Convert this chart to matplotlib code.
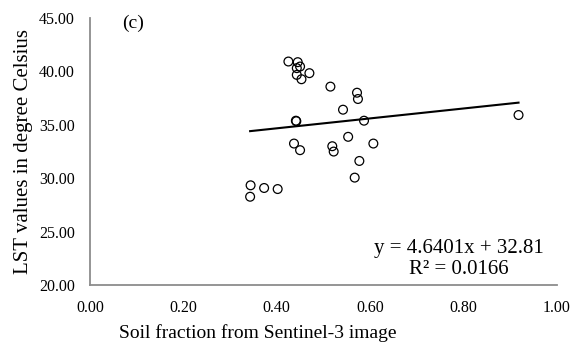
import numpy as np
import matplotlib.pyplot as plt

plt.rcParams['font.family'] = ['Liberation Serif', 'DejaVu Serif']

# Soil fraction (x) and LST in degree Celsius (y)
soil = [0.425, 0.445, 0.450, 0.443, 0.470, 0.443, 0.453, 0.515, 0.572, 0.574,
        0.542, 0.441, 0.442, 0.587, 0.918, 0.553, 0.437, 0.450, 0.519, 0.522,
        0.607, 0.577, 0.567, 0.344, 0.343, 0.373, 0.402]
lst = [40.92, 40.86, 40.45, 40.30, 39.83, 39.67, 39.26, 38.57, 38.00, 37.41,
       36.41, 35.38, 35.33, 35.38, 35.91, 33.87, 33.24, 32.62, 32.99, 32.49,
       33.24, 31.61, 30.05, 29.33, 28.26, 29.08, 28.98]

slope = 4.6401
intercept = 32.81
r2 = 0.0166

fig = plt.figure(figsize=(5.77, 3.45), dpi=100)
ax = fig.add_axes([0.156, 0.174, 0.809, 0.774])

ax.scatter(soil, lst, s=40, facecolors='none', edgecolors='black', linewidths=0.9, zorder=3)

# linear trend line over the data range
xs = np.array([min(soil), max(soil)])
ax.plot(xs, slope * xs + intercept, color='black', linewidth=1.5, zorder=2)

ax.set_xlim(0, 1)
ax.set_ylim(20, 45)
ax.set_xticks(np.arange(0, 1.01, 0.2))
ax.set_yticks(np.arange(20, 45.1, 5))
ax.set_xticklabels([f'{v:.2f}' for v in np.arange(0, 1.01, 0.2)])
ax.set_yticklabels([f'{v:.2f}' for v in np.arange(20, 45.1, 5)])
ax.tick_params(length=0, labelsize=11.5, pad=11)

for side in ['top', 'right']:
    ax.spines[side].set_visible(False)
for side in ['left', 'bottom']:
    ax.spines[side].set_color('#8c8c8c')
    ax.spines[side].set_linewidth(1.3)

# x label sits left of the axis centre in the original
fig.text(0.447, 0.035, 'Soil fraction from Sentinel-3 image', fontsize=14, ha='center', va='center')
ax.set_ylabel('LST values in degree Celsius', fontsize=15, labelpad=4)

ax.text(0.092, 0.98, '(c)', transform=ax.transAxes, fontsize=14, ha='center', va='center')
ax.text(0.79, 0.098, f'y = {slope}x + {intercept}\nR² = {r2}', transform=ax.transAxes,
        fontsize=15, ha='center', va='center', linespacing=1.15)

fig.savefig('out.png', dpi=100)
